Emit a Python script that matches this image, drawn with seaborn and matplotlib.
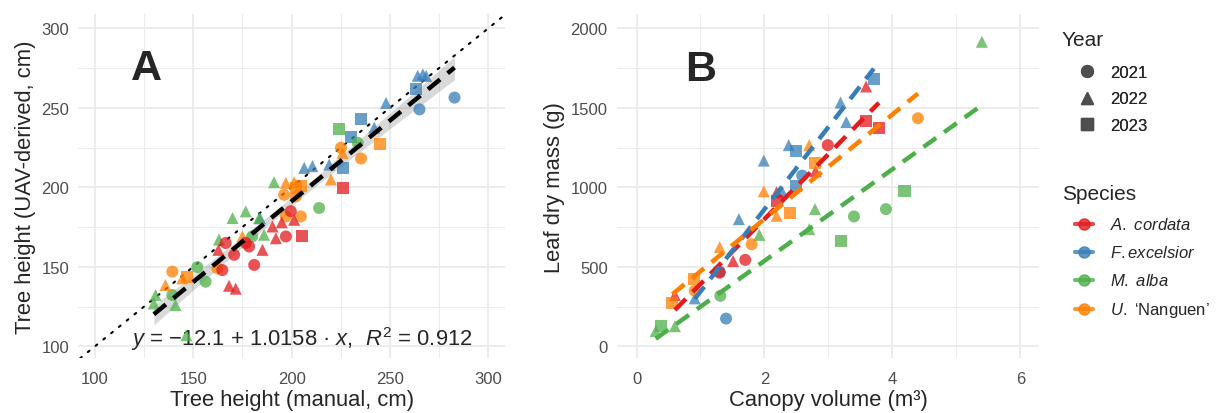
import numpy as np
import pandas as pd
import matplotlib
matplotlib.use("Agg")
import matplotlib.pyplot as plt
from matplotlib.ticker import MultipleLocator
from matplotlib.lines import Line2D
import seaborn as sns

# ── data: panel A (manual vs UAV tree height, cm) ────────────────────────────
a_species = (["F. excelsior"] * 15 + ["M. alba"] * 17 + ["U. Nanguen"] * 19
             + ["A. cordata"] * 18)
a_year = [2022, 2022, 2022, 2023, 2021, 2021, 2022, 2023, 2023, 2022, 2022, 2022, 2022, 2023, 2022,
          2023, 2021, 2022, 2021, 2022, 2022, 2022, 2022, 2022, 2021, 2021, 2021, 2022, 2022, 2021, 2022, 2022,
          2023, 2021, 2021, 2022, 2022, 2022, 2022, 2023, 2023, 2021, 2021, 2021, 2021, 2022, 2021, 2021, 2022, 2022, 2023,
          2023, 2021, 2022, 2022, 2022, 2022, 2021, 2023, 2021, 2021, 2021, 2021, 2022, 2021, 2021, 2022, 2022, 2022]
a_manual = [264.1, 266.7, 268.4, 263.3, 282.8, 265.0, 248.0, 235.3, 230.2, 242.0, 206.4, 210.6, 219.1, 225.9, 184.0,
            224.2, 233.6, 191.1, 214.0, 170.0, 176.7, 183.5, 163.1, 186.0, 180.0, 152.1, 156.3, 130.9, 130.0, 139.4, 141.0, 146.5,
            245.1, 235.3, 225.1, 225.9, 220.0, 197.1, 201.3, 202.2, 204.7, 196.2, 202.2, 204.7, 197.1, 175.0, 162.3, 139.4, 135.9, 144.5, 147.0,
            225.9, 199.6, 201.3, 190.3, 192.0, 185.2, 197.1, 205.2, 178.4, 176.7, 181.0, 166.5, 162.8, 170.8, 164.8, 168.2, 171.6, 195.0]
a_uav = [270.1, 271.0, 270.0, 261.7, 256.4, 249.0, 253.0, 243.2, 231.8, 237.5, 212.2, 213.3, 214.3, 212.2, 180.5,
         236.4, 228.0, 203.2, 187.0, 180.7, 184.9, 180.7, 167.2, 170.2, 169.1, 149.8, 140.7, 132.3, 127.0, 132.3, 126.0, 107.0,
         227.4, 218.1, 224.9, 221.7, 204.9, 202.8, 203.2, 199.6, 200.6, 195.3, 194.3, 181.7, 181.7, 169.1, 149.1, 147.0, 138.6, 142.8, 143.8,
         199.6, 185.0, 179.6, 175.4, 168.0, 160.7, 169.1, 169.1, 162.8, 165.0, 151.2, 165.0, 160.7, 157.6, 148.0, 138.1, 136.3, 178.0]
eq_text = r"$y$ = −12.1 + 1.0158 · $x$,  $R^2$ = 0.912"

# ── data: panel B (canopy volume vs leaf dry mass) ──────────────────────────
b_species = (["M. alba"] * 12 + ["F. excelsior"] * 13 + ["A. cordata"] * 11
             + ["U. Nanguen"] * 11)
b_year = [2022, 2023, 2021, 2021, 2022, 2022, 2022, 2023, 2021, 2022, 2022, 2023,
          2023, 2022, 2022, 2022, 2023, 2022, 2021, 2023, 2022, 2022, 2021, 2022, 2021,
          2022, 2023, 2023, 2021, 2022, 2022, 2023, 2022, 2021, 2021, 2022,
          2021, 2022, 2023, 2022, 2023, 2022, 2022, 2021, 2023, 2021, 2023]
b_volume = [5.40, 4.19, 3.90, 3.40, 2.79, 2.70, 1.92, 3.19, 1.31, 0.30, 0.60, 0.39,
            3.71, 3.19, 3.28, 2.38, 2.50, 1.99, 2.59, 2.50, 2.28, 1.60, 1.30, 0.91, 1.40,
            3.59, 3.59, 3.79, 2.99, 2.80, 2.19, 2.19, 1.51, 1.70, 1.30, 0.60,
            4.40, 2.70, 2.79, 1.99, 2.40, 2.19, 1.30, 1.80, 0.90, 0.91, 0.56]
b_mass = [1915, 975, 863, 817, 863, 737, 701, 665, 318, 97, 127, 127,
          1680, 1533, 1410, 1265, 1227, 1168, 1074, 1006, 969, 800, 470, 302, 175,
          1634, 1417, 1375, 1265, 1101, 969, 912, 537, 544, 463, 323,
          1434, 1265, 1150, 975, 838, 821, 624, 642, 422, 350, 270]

species_order = ["A. cordata", "F. excelsior", "M. alba", "U. Nanguen"]
species_labels = [r"$\mathit{A.\ cordata}$", r"$\mathit{F.excelsior}$",
                  r"$\mathit{M.\ alba}$", r"$\mathit{U.}$ ‘Nanguen’"]
years = [2021, 2022, 2023]

palette = dict(zip(species_order, ["#E41A1C", "#377EB8", "#4DAF4A", "#FF7F00"]))
markers = {2021: "o", 2022: "^", 2023: "s"}

df_a = pd.DataFrame({"manual": a_manual, "uav": a_uav, "species": a_species, "year": a_year})
df_b = pd.DataFrame({"volume": b_volume, "mass": b_mass, "species": b_species, "year": b_year})

# ── style ───────────────────────────────────────────────────────────────────
sns.set_theme(style="whitegrid")
plt.rcParams["font.family"] = ["Liberation Sans", "DejaVu Sans"]
plt.rcParams["mathtext.fontset"] = "custom"
plt.rcParams["mathtext.rm"] = "Liberation Sans"
plt.rcParams["mathtext.it"] = "Liberation Sans:italic"
plt.rcParams["axes.unicode_minus"] = True

fig = plt.figure(figsize=(12.2, 4.14), dpi=100)
ax_a = fig.add_axes([0.064, 0.132, 0.350, 0.832])
ax_b = fig.add_axes([0.5055, 0.132, 0.3465, 0.832])

GRID = "#EBEBEB"
LABEL_FS = 15.8


def tidy(ax, major_x, major_y):
    for s in ax.spines.values():
        s.set_visible(False)
    ax.xaxis.set_major_locator(MultipleLocator(major_x))
    ax.xaxis.set_minor_locator(MultipleLocator(major_x / 2))
    ax.yaxis.set_major_locator(MultipleLocator(major_y))
    ax.yaxis.set_minor_locator(MultipleLocator(major_y / 2))
    ax.grid(which="major", color=GRID, lw=1.3)
    ax.grid(which="minor", color=GRID, lw=0.7)
    ax.tick_params(which="both", length=0, labelsize=12, labelcolor="#4D4D4D")
    ax.tick_params(axis="x", pad=9)
    ax.tick_params(axis="y", pad=6.5)
    ax.set_facecolor("white")
    ax.set_axisbelow(True)


# ── panel A ─────────────────────────────────────────────────────────────────
ax_a.axline((0, 0), slope=1, color="black", lw=1.5, dashes=(1, 3.8),
            dash_capstyle="round", zorder=1)
sns.regplot(data=df_a, x="manual", y="uav", scatter=False, ci=95, ax=ax_a,
            color="black", line_kws=dict(lw=3.2, dashes=(3.5, 2.2), zorder=4))
ax_a.text(118.5, 105, eq_text, fontsize=15.8, va="center", ha="left", zorder=2)
sns.scatterplot(data=df_a, x="manual", y="uav", hue="species", style="year",
                hue_order=species_order, palette=palette, markers=markers,
                s=75, alpha=0.75, linewidth=0, legend=False, ax=ax_a, zorder=3)
ax_a.set_xlim(91.5, 308.5)
ax_a.set_ylim(92.5, 309)
tidy(ax_a, 50, 50)
ax_a.set_xlabel("Tree height (manual, cm)", fontsize=LABEL_FS, labelpad=2)
ax_a.set_ylabel("Tree height (UAV-derived, cm)", fontsize=LABEL_FS, labelpad=4)
ax_a.text(126, 275, "A", fontsize=31, fontweight="bold", ha="center", va="center")

# ── panel B ─────────────────────────────────────────────────────────────────
for sp in species_order:
    sns.regplot(data=df_b[df_b.species == sp], x="volume", y="mass", scatter=False,
                ci=None, ax=ax_b, color=palette[sp],
                line_kws=dict(lw=3.2, dashes=(3.5, 2.2), zorder=4))
sns.scatterplot(data=df_b, x="volume", y="mass", hue="species", style="year",
                hue_order=species_order, palette=palette, markers=markers,
                s=75, alpha=0.75, linewidth=0, legend=False, ax=ax_b, zorder=3)
ax_b.set_xlim(-0.31, 6.3)
ax_b.set_ylim(-75, 2090)
tidy(ax_b, 2, 500)
ax_b.set_xlabel("Canopy volume (m³)", fontsize=LABEL_FS, labelpad=2)
ax_b.set_ylabel("Leaf dry mass (g)", fontsize=LABEL_FS, labelpad=4)
ax_b.text(1.0, 1743, "B", fontsize=31, fontweight="bold", ha="center", va="center")

# ── legends ─────────────────────────────────────────────────────────────────
W, H = 1220, 414
fig.text(1062 / W, 1 - 40 / H, "Year", fontsize=15, va="center", ha="left")
fig.text(1062 / W, 1 - 194 / H, "Species", fontsize=15, va="center", ha="left")

year_handles = [Line2D([0], [0], ls="none", marker=markers[y], color="#4D4D4D",
                       ms=8.5, alpha=0.9) for y in years]
leg1 = fig.legend(year_handles, [str(y) for y in years],
                  loc="center left", bbox_to_anchor=(1070 / W, 1 - 100 / H),
                  frameon=False, fontsize=12, handlelength=1.2,
                  handletextpad=0.8, labelspacing=0.68, borderaxespad=0)
fig.add_artist(leg1)
sp_handles = [Line2D([0], [0], color=palette[sp], lw=3, marker="o", ms=8,
                     alpha=0.8) for sp in species_order]
fig.legend(sp_handles, species_labels,
           loc="center left", bbox_to_anchor=(1068 / W, 1 - 269 / H),
           frameon=False, fontsize=12, handlelength=1.08,
           handletextpad=1.04, labelspacing=0.72, borderaxespad=0)

fig.savefig("out.png", dpi=100, facecolor="white")
